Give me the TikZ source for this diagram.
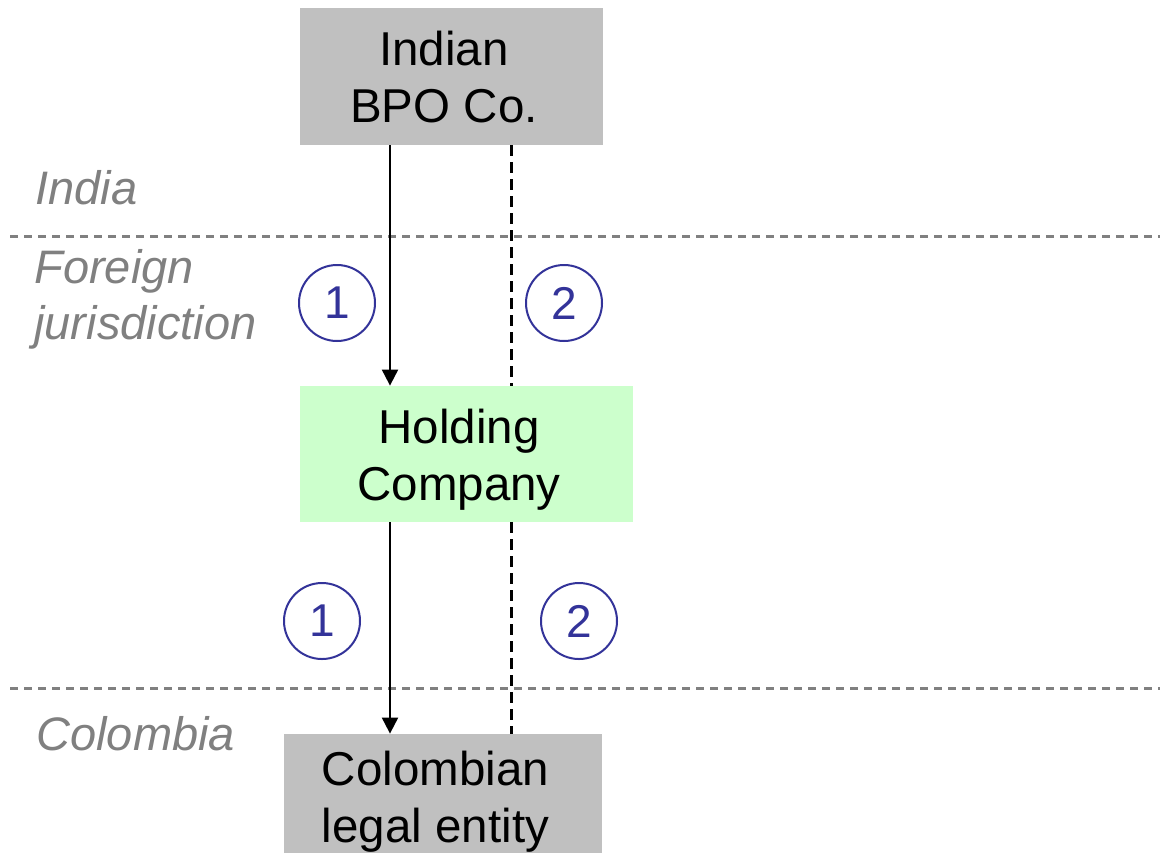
\documentclass[tikz,border=0pt]{standalone}
\usepackage{fontspec}
\setmainfont{Liberation Sans}
\usetikzlibrary{arrows.meta}
\definecolor{boxgray}{HTML}{C0C0C0}
\definecolor{boxgreen}{HTML}{CCFFCC}
\definecolor{numblue}{HTML}{333399}
\definecolor{linegray}{HTML}{808080}
\newcommand{\twolines}[2]{\begin{tabular}[t]{@{}c@{}}#1\\#2\end{tabular}\kern7.5pt\relax}
\tikzset{
  entity/.style={rectangle, inner sep=0pt, font=\fontsize{23.75}{28.5}\selectfont},
  numcircle/.style={circle, draw=numblue, line width=1pt, minimum size=38pt, inner sep=0pt,
    text=numblue, font=\fontsize{23}{27}\selectfont},
  region/.style={anchor=base west, inner sep=0pt, text=linegray,
    font=\fontsize{23.5}{28}\selectfont\itshape},
  border/.style={draw=linegray, line width=1.5pt, dash pattern=on 4pt off 3pt},
  flow/.style={draw=black, line width=1pt, -{Triangle[width=8pt,length=8pt]}},
  flowdash/.style={draw=black, line width=1.5pt, dash pattern=on 5.5pt off 3pt}
}
\begin{document}
\begin{tikzpicture}[x=0.5pt, y=-0.5pt]
\useasboundingbox (0,0) rectangle (1160,852);
% region borders
\coordinate (b1l) at (10,236);
\coordinate (b1r) at (1160,236);
\coordinate (b2l) at (10,688);
\coordinate (b2r) at (1160,688);
\draw[border] (b1l) -- (b1r);
\draw[border] (b2l) -- (b2r);
% boxes
\node[entity, fill=boxgray, minimum width=151.5pt, minimum height=68.5pt,
  text height=20pt, text depth=31.5pt] (indian) at (451.5,76.5) {\twolines{Indian}{BPO Co.}};
\node[entity, fill=boxgreen, minimum width=166.5pt, minimum height=68pt,
  text height=20pt, text depth=31pt] (holding) at (466.5,454) {\twolines{Holding}{Company}};
\node[entity, fill=boxgray, minimum width=159pt, minimum height=68.5pt,
  text height=20pt, text depth=37.5pt] (colomb) at (443,802.5) {\twolines{Colombian}{legal entity}};
% connector columns
\coordinate (ax) at (390,0);
\coordinate (dx) at (511,0);
\draw[flow] (indian.south -| ax) -- (holding.north -| ax);
\draw[flow] (holding.south -| ax) -- (colomb.north -| ax);
\draw[flowdash] (indian.south -| dx) -- (holding.north -| dx);
\draw[flowdash] (holding.south -| dx) -- (colomb.north -| dx);
% numbers
\node[numcircle] (n1a) at (337,303) {1};
\node[numcircle] (n2a) at (564,303) {2};
\node[numcircle] (n1b) at (322,621) {1};
\node[numcircle] (n2b) at (579,621) {2};
% region labels
\node[region] (lindia) at (35,204) {India};
\node[region] (lforeign) at (34,283) {\begin{tabular}[t]{@{}l@{}}Foreign\\jurisdiction\end{tabular}};
\node[region] (lcol) at (36,750) {Colombia};
\end{tikzpicture}
\end{document}
